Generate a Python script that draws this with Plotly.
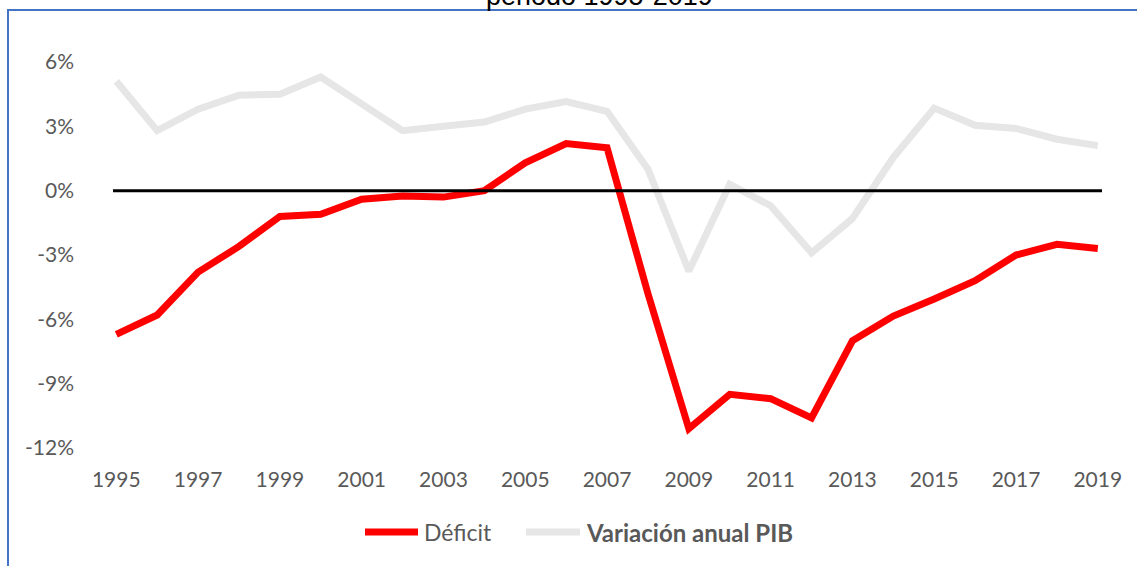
import plotly.graph_objects as go

years = list(range(1995, 2020))
deficit = [-6.7, -5.8, -3.8, -2.6, -1.2, -1.1, -0.4, -0.25, -0.3, 0.0,
           1.3, 2.2, 2.0, -4.8, -11.1, -9.5, -9.7, -10.6, -7.0, -5.85,
           -5.05, -4.2, -3.0, -2.5, -2.7]
pib = [5.1, 2.8, 3.8, 4.45, 4.5, 5.3, 4.05, 2.8, 3.0, 3.2,
       3.8, 4.15, 3.7, 1.0, -3.75, 0.3, -0.7, -2.9, -1.3, 1.55,
       3.85, 3.05, 2.9, 2.4, 2.1]
x_ticks = list(range(1995, 2020, 2))
y_ticks = [6, 3, 0, -3, -6, -9, -12]
y_labels = [f"{v}%" for v in y_ticks]
series_names = ["Déficit", "Variación anual PIB"]
title_text = "periodo 1995-2019"

RED = "#FF0000"
GREY = "#E7E6E6"
TXT = "#595959"
BLUE = "#4472C4"

W, H = 1137, 566
L, R, T, B = 113, 35, 62, 118
pw, ph = W - L - R, H - T - B


def px_x(p):
    return (p - L) / pw


def px_y(p):
    return (H - B - p) / ph


fig = go.Figure()
fig.add_trace(go.Scatter(x=years, y=pib, mode="lines", name=series_names[1],
                         line=dict(color=GREY, width=7), showlegend=False,
                         hoverinfo="x+y"))
fig.add_trace(go.Scatter(x=years, y=deficit, mode="lines", name=series_names[0],
                         line=dict(color=RED, width=7), showlegend=False,
                         hoverinfo="x+y"))

shapes = [
    # zero line
    dict(type="line", xref="x domain", yref="y", x0=0, x1=1, y0=0, y1=0,
         line=dict(color="black", width=3), layer="above"),
    # chart border (left and top)
    dict(type="line", xref="paper", yref="paper", x0=px_x(8), x1=px_x(8),
         y0=px_y(575), y1=px_y(9), line=dict(color=BLUE, width=2)),
    dict(type="line", xref="paper", yref="paper", x0=px_x(7), x1=px_x(1145),
         y0=px_y(10), y1=px_y(10), line=dict(color=BLUE, width=2)),
    # legend samples
    dict(type="line", xref="paper", yref="paper", x0=px_x(365), x1=px_x(418),
         y0=px_y(532), y1=px_y(532), line=dict(color=RED, width=7)),
    dict(type="line", xref="paper", yref="paper", x0=px_x(526), x1=px_x(580),
         y0=px_y(532), y1=px_y(532), line=dict(color=GREY, width=7)),
]

annotations = [
    dict(text=title_text, xref="paper", yref="paper", x=px_x(599), y=px_y(13),
         xanchor="center", yanchor="bottom", showarrow=False,
         font=dict(family="Liberation Sans, Arial", size=27, color="black")),
    dict(text=series_names[0], xref="paper", yref="paper", x=px_x(422), y=px_y(532),
         xanchor="left", yanchor="middle", showarrow=False,
         font=dict(family="Lato", size=23, color=TXT)),
    dict(text="<b>" + series_names[1] + "</b>", xref="paper", yref="paper",
         x=px_x(584), y=px_y(532), xanchor="left", yanchor="middle", showarrow=False,
         font=dict(family="Lato", size=24, color=TXT)),
]

fig.update_layout(
    width=W, height=H,
    margin=dict(l=L, r=R, t=T, b=B),
    paper_bgcolor="white", plot_bgcolor="white",
    showlegend=False,
    shapes=shapes,
    annotations=annotations,
    font=dict(family="Lato", size=21, color=TXT),
)
fig.update_xaxes(range=[1995 - 3.3 / 40.875, 2019 + 4.2 / 40.875],
                 tickvals=x_ticks, ticktext=[str(v) for v in x_ticks],
                 showgrid=False, zeroline=False, showline=False, ticks="",
                 ticklabelstandoff=17, tickfont=dict(family="Lato", size=21, color=TXT))
fig.update_yaxes(range=[-12, 6], tickvals=y_ticks, ticktext=y_labels,
                 showgrid=False, zeroline=False, showline=False, ticks="",
                 ticklabelstandoff=38, tickfont=dict(family="Lato", size=21, color=TXT))

fig.write_html(
    "out.html",
    config={"displayModeBar": False},
    post_script="document.body.style.margin='0';document.body.style.overflow='hidden';",
)
